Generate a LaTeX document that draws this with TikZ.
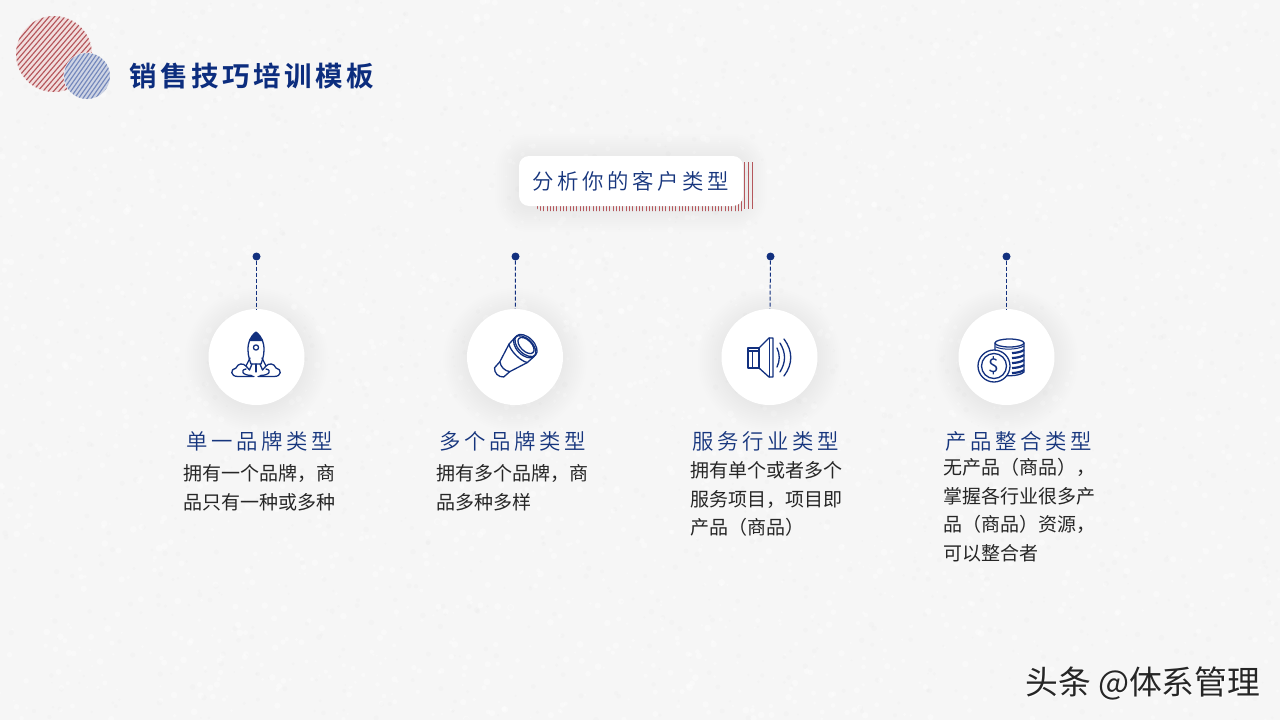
\documentclass[tikz,border=0pt]{standalone}
\usepackage{fontspec}
\setmainfont{Noto Sans CJK SC}
\newfontfamily\titlefont[LetterSpace=13,BoldFont={Noto Sans CJK SC Bold}]{Noto Sans CJK SC}
\newfontfamily\headfont[LetterSpace=17]{Noto Sans CJK SC DemiLight}
\newfontfamily\bodyfont{Noto Sans CJK SC}
\newfontfamily\markfont{Noto Sans CJK SC}
\definecolor{bgc}{HTML}{F6F6F6}
\definecolor{navy}{HTML}{12307F}
\definecolor{titlec}{HTML}{0C2D7E}
\definecolor{headc}{HTML}{16357D}
\definecolor{redl}{HTML}{B5575C}
\definecolor{redp}{HTML}{F1DEDE}
\definecolor{bluel}{HTML}{7488BC}
\definecolor{bodyc}{HTML}{262626}
\tikzset{
  icon/.style={draw=navy,line width=1.3pt,line cap=round,line join=round},
  dotnode/.style={circle,fill=navy,inner sep=0pt,minimum size=8pt},
  disc/.style={circle,fill=white,inner sep=0pt,minimum size=96pt},
  leader/.style={draw=navy,line width=1pt,dash pattern=on 4pt off 2pt},
  labeltext/.style={anchor=west,inner sep=0pt,text=headc,font=\headfont\fontsize{21.4}{24}\selectfont},
  bodytext/.style={anchor=north west,inner sep=0pt,align=left,text=bodyc,font=\bodyfont\fontsize{19}{28.5}\selectfont},
}
\newcommand{\softdisc}[3]{\foreach \i in {0,2,...,24}{\fill[black,opacity=0.005] (#1,#2+3) circle[radius=#3+\i];}}
\begin{document}
\begin{tikzpicture}[x=1pt,y=-1pt]
\useasboundingbox (0,0) rectangle (1280,720);
\fill[bgc] (0,0) rectangle (1280,720);
% paper texture
\pgfmathsetseed{7}
\foreach \k in {1,...,2600}{
  \pgfmathsetmacro{\px}{rnd*1280}\pgfmathsetmacro{\py}{rnd*720}\pgfmathsetmacro{\pr}{1+rnd*2.5}
  \fill[white,opacity=0.35] (\px,\py) circle[radius=\pr];
}
\foreach \k in {1,...,1500}{
  \pgfmathsetmacro{\px}{rnd*1280}\pgfmathsetmacro{\py}{rnd*720}\pgfmathsetmacro{\pr}{1+rnd*2}
  \fill[black,opacity=0.012] (\px,\py) circle[radius=\pr];
}
% logo circles
\begin{scope}
  \fill[redp] (54,54) circle[radius=38];
  \clip (54,54) circle[radius=38];
  \foreach \d in {-56,-52,...,56}{
    \draw[redl,line width=1.15pt] (54+\d*0.76-31,54+\d*0.65+36) -- ++(62,-72);
  }
\end{scope}
\begin{scope}
  \fill[bgc] (87,76) circle[radius=23.5];
  \fill[bluel,opacity=0.3] (87,76) circle[radius=23];
  \clip (87,76) circle[radius=23];
  \foreach \d in {-36,-32.5,...,36}{
    \draw[bluel,line width=1.15pt] (87+\d*0.82-14,76+\d*0.57+20) -- ++(28,-40);
  }
\end{scope}
\node[anchor=west,inner sep=0pt,text=titlec,font=\titlefont\bfseries\fontsize{27.5}{30}\selectfont] (title) at (129,76) {销售技巧培训模板};
% heading box
\foreach \i in {0,2,...,24}{\pgfmathsetmacro{\rr}{10+\i}\fill[black,opacity=0.005,rounded corners=\rr pt] (519-\i,156+2-\i) rectangle (743+\i,206+2+\i);}
\begin{scope}
  \clip[rounded corners=6pt] (536,161) rectangle (753.5,211);
  \foreach \d in {0,1,...,62}{\draw[redl,line width=0.75pt] (537+\d*3.3,170) -- (537+\d*3.3,212);}
\end{scope}
\foreach \xx in {744.5,748.5,752.5}{\draw[redl,line width=0.8pt] (\xx,162) -- (\xx,209);}
\node[fill=white,rounded corners=10pt,minimum width=224pt,minimum height=50pt,inner sep=0pt,text=headc,font=\headfont\fontsize{21.4}{24}\selectfont] (head) at (631,181) {分析你的客户类型};
% columns
\softdisc{256.5}{357}{48}
\softdisc{515}{357}{48}
\softdisc{769.5}{357}{48}
\softdisc{1006.5}{357}{48}
\node[disc] (d1) at (256.5,357) {};
\node[disc] (d2) at (515,357) {};
\node[disc] (d3) at (769.5,357) {};
\node[disc] (d4) at (1006.5,357) {};
\node[dotnode] (p1) at (256.5,256.5) {};
\node[dotnode] (p2) at (515.5,256.5) {};
\node[dotnode] (p3) at (770.5,256.5) {};
\node[dotnode] (p4) at (1006.5,256.5) {};
\draw[leader] (p1) -- (d1);
\draw[leader] (p2) -- (d2);
\draw[leader] (p3) -- (d3);
\draw[leader] (p4) -- (d4);
% rocket
\draw[icon] (256,332) .. controls (250,337) and (248,342) .. (248,350) .. controls (248,356) and (250,361) .. (251,364) -- (261,364) .. controls (262,361) and (264,356) .. (264,350) .. controls (264,342) and (262,337) .. (256,332) -- cycle;
\fill[navy] (256,332) .. controls (252.5,335) and (250.5,338) .. (249.5,341) -- (262.5,341) .. controls (261.5,338) and (259.5,335) .. (256,332) -- cycle;
\draw[icon] (256,347.5) circle[radius=2.6];
\draw[icon] (250,358) -- (246,366) -- (249.5,370) -- (252,364);
\draw[icon] (262,358) -- (266,366) -- (262.5,370) -- (260,364);
\draw[icon] (256,364) -- (256,372);
\draw[icon] (254,376.5) -- (238,376.5) .. controls (230,376.5) and (230,369) .. (236,368) .. controls (238,363) and (243,363) .. (246,366);
\draw[icon] (252,375.5) .. controls (242,375.5) and (240,370) .. (246,369);
\draw[icon] (258,376.5) -- (274,376.5) .. controls (282,376.5) and (282,369) .. (276,368) .. controls (274,363) and (269,363) .. (266,366);
\draw[icon] (260,375.5) .. controls (270,375.5) and (272,370) .. (266,369);
% telescope
\begin{scope}[shift={(526,345.5)},rotate=225]
  \draw[icon] (0,0) ellipse[x radius=8,y radius=13.5];
  \draw[icon] (0,0) ellipse[x radius=5.5,y radius=10];
  \draw[icon] (1.8,0) ellipse[x radius=8,y radius=13.5];
  \draw[icon] (1.8,-13.5) -- (11,-13) .. controls (15,-8) and (15,8) .. (11,13) -- (1.8,13.5);
  \draw[icon] (11,-13) -- (30,-7) .. controls (33,-3) and (33,3) .. (30,7) -- (11,13);
  \draw[icon] (30,-7) -- (38,-6.5) .. controls (42,-3) and (42,3) .. (38,6.5) -- (30,7);
\end{scope}
% speaker
\draw[icon] (748,348) rectangle (759,368);
\draw[icon] (752.5,351) -- (752.5,368);
\draw[icon] (748,351) -- (759,351);
\draw[icon] (759,348) -- (769,338) -- (773,338) -- (773,377) -- (769,377) -- (759,368);
\draw[icon] (769.5,338) -- (769.5,377);
\draw[icon] (777,348) .. controls (780,354) and (780,361) .. (777,367);
\draw[icon] (780,343) .. controls (786,353) and (786,362) .. (780,372);
\draw[icon] (784,339) .. controls (793,351) and (793,364) .. (784,376);
% coins
\draw[icon,fill=white] (995,343) -- (995,372) .. controls (1000,377) and (1019,377) .. (1024,372) -- (1024,343);
\draw[icon,fill=white] (1009.5,343) ellipse[x radius=14.5,y radius=4];
\foreach \yy in {351,356,361,366,371}{
  \draw[icon,line width=2.2pt,line cap=butt] (1012,\yy+2) .. controls (1016,\yy+2) and (1021,\yy+1) .. (1024,\yy-1);
}
\draw[icon,line width=1pt] (996,347) .. controls (1002,350) and (1017,350) .. (1024,346);
\draw[icon,fill=white] (994,366) circle[radius=16];
\draw[icon] (994,366) circle[radius=12.5];
\node[inner sep=0pt,text=navy,font=\bodyfont\fontsize{19}{20}\selectfont] (dollar) at (994,366) {\$};
% labels
\node[labeltext] (l1) at (186,441) {单一品牌类型};
\node[labeltext] (l2) at (439,441) {多个品牌类型};
\node[labeltext] (l3) at (692,441) {服务行业类型};
\node[labeltext] (l4) at (945,441) {产品整合类型};
\node[bodytext] (b1) at (183,464.5) {拥有一个品牌，商\\品只有一种或多种};
\node[bodytext] (b2) at (436,464.5) {拥有多个品牌，商\\品多种多样};
\node[bodytext] (b3) at (690,461.5) {拥有单个或者多个\\服务项目，项目即\\产品（商品）};
\node[bodytext] (b4) at (943,458.5) {无产品（商品），\\掌握各行业很多产\\品（商品）资源，\\可以整合者};
% watermark
\node[anchor=west,inner sep=0pt,text=white,font=\markfont\fontsize{32.8}{36}\selectfont] (m0) at (1025.8,684.8) {头条 @体系管理};
\node[anchor=west,inner sep=0pt,text=black!85,font=\markfont\fontsize{32.8}{36}\selectfont] (m1) at (1025,683) {头条 @体系管理};
\end{tikzpicture}
\end{document}
